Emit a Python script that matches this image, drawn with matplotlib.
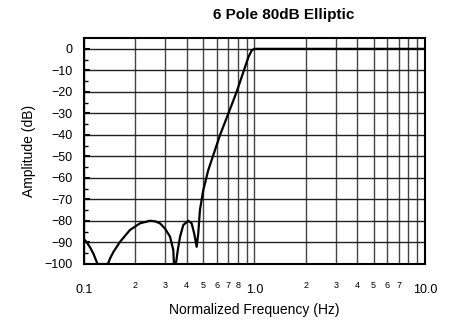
import numpy as np
import matplotlib.pyplot as plt
from matplotlib.ticker import FixedLocator, NullFormatter

plt.rcParams['font.family'] = ['Liberation Sans', 'DejaVu Sans']

# highpass elliptic response, read point by point (dB clipped at -100)
freq = [0.100, 0.104, 0.109, 0.114, 0.120, 0.138, 0.143, 0.149, 0.163, 0.186,
        0.213, 0.244, 0.262, 0.279, 0.2985, 0.3196, 0.334, 0.337, 0.346, 0.355,
        0.366, 0.3822, 0.4088, 0.4278, 0.443, 0.4579, 0.468, 0.4787, 0.5007,
        0.5355, 0.5863, 0.6276, 0.7024, 0.7858, 0.8605, 0.9214, 0.964, 1.0, 10.0]
gain = [-88.5, -90.0, -92.5, -95.5, -100.0, -100.0, -97.0, -94.3, -89.6, -84.2,
        -81.1, -79.9, -80.2, -81.1, -83.5, -87.3, -93.5, -100.0, -100.0, -93.5,
        -87.3, -81.9, -79.9, -81.1, -85.8, -92.0, -85.8, -74.9, -65.7,
        -56.4, -47.1, -40.1, -30.1, -20.0, -10.8, -3.8, -0.7, 0.0, 0.0]

y_ticks = list(range(0, -101, -10))
x_major = [0.1, 1.0, 10.0]
x_major_labels = ['0.1', '1.0', '10.0']
x_minor = [0.2, 0.3, 0.4, 0.5, 0.6, 0.7, 0.8, 0.9, 2, 3, 4, 5, 6, 7, 8, 9]
x_minor_labels = ['2', '3', '4', '5', '6', '7', '8', '', '2', '3', '4', '5', '6', '7', '', '']

fig = plt.figure(figsize=(4.55, 3.2), dpi=100)
ax = fig.add_axes([0.1846, 0.175, 0.7494, 0.706])

ax.plot(freq, gain, color='black', linewidth=1.6, zorder=3)

ax.set_xscale('log')
ax.set_xlim(0.1, 10)
ax.set_ylim(-100, 5)

ax.xaxis.set_major_locator(FixedLocator(x_major))
ax.set_xticklabels(x_major_labels)
ax.xaxis.set_minor_locator(FixedLocator(x_minor))
ax.set_xticklabels(x_minor_labels, minor=True)
ax.tick_params(axis='x', which='major', length=0, pad=14.5, labelsize=9)
ax.tick_params(axis='x', which='minor', length=0, pad=12.5, labelsize=6.5)

ax.set_yticks(y_ticks)
ax.yaxis.set_minor_locator(FixedLocator(np.arange(-95, 5, 10)))
ax.yaxis.set_minor_formatter(NullFormatter())
ax.tick_params(axis='y', which='major', direction='in', length=4, width=1.5, labelsize=9, pad=8)
ax.tick_params(axis='y', which='minor', direction='in', length=3, width=1)

ax.grid(which='both', axis='x', color='#444444', linewidth=1)
ax.grid(which='major', axis='y', color='#222222', linewidth=1)

for side in ['left', 'bottom', 'right', 'top']:
    ax.spines[side].set_linewidth(1.5)

fig.text(0.624, 0.953, '6 Pole 80dB Elliptic', fontsize=11, fontweight='bold',
         ha='center', va='center')
ax.set_ylabel('Amplitude (dB)', fontsize=10, labelpad=6)
ax.set_xlabel('Normalized Frequency (Hz)', fontsize=10, labelpad=5)

fig.savefig('out.png', dpi=100)
